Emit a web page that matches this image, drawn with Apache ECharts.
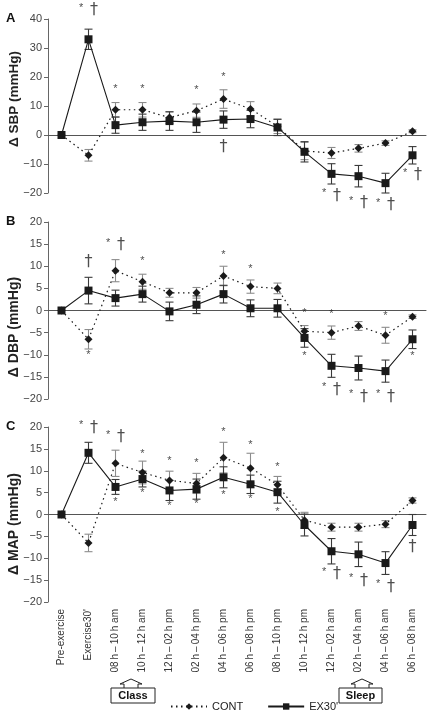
<!DOCTYPE html>
<html>
<head>
<meta charset="utf-8">
<script src="https://cdn.jsdelivr.net/npm/echarts@6/dist/echarts.min.js"></script>
<style>
html,body{margin:0;padding:0;background:#fff;}
#chart{width:433px;height:715px;}
</style>
</head>
<body>
<div id="chart"></div>
<script>
const categories = ['Pre-exercise', "Exercise30'", '08\u2009h\u2009–\u200910\u2009h am', '10\u2009h\u2009–\u200912\u2009h am', '12\u2009h\u2009–\u200902\u2009h pm', '02\u2009h\u2009–\u200904\u2009h pm', '04\u2009h\u2009–\u200906\u2009h pm', '06\u2009h\u2009–\u200908\u2009h pm', '08\u2009h\u2009–\u200910\u2009h pm', '10\u2009h\u2009–\u200912\u2009h pm', '12\u2009h\u2009–\u200902\u2009h am', '02\u2009h\u2009–\u200904\u2009h am', '04\u2009h\u2009–\u200906\u2009h am', '06\u2009h\u2009–\u200908\u2009h am'];

// Panel A: Δ SBP
const sbpCont    = [0, -7.0, 8.7, 8.7, 6.0, 8.4, 12.4, 9.0, 3.0, -5.5, -6.2, -4.6, -2.8, 1.3];
const sbpContErr = [0, 2.0, 2.5, 2.5, 2.0, 2.3, 3.2, 2.5, 2.5, 3.0, 1.9, 1.3, 0.8, 0.5];
const sbpEx      = [0, 33.0, 3.4, 4.4, 4.8, 4.4, 5.3, 5.5, 2.6, -5.8, -13.4, -14.2, -16.6, -7.0];
const sbpExErr   = [0, 3.5, 2.8, 2.8, 3.2, 3.5, 3.0, 3.0, 2.8, 3.5, 3.5, 3.7, 3.4, 3.0];
const sbpMarks   = [[1, 43, 'sd'], [2, 15.2, 's'], [3, 15.2, 's'], [5, 14.7, 's'], [6, 19.2, 's'], [6, -4.2, 'd'], [10, -21.0, 'sd'], [11, -23.5, 'sd'], [12, -24.2, 'sd'], [13, -13.9, 'sd']];

// Panel B: Δ DBP
const dbpCont    = [0, -6.5, 9.0, 6.5, 4.0, 4.0, 7.8, 5.4, 5.0, -4.7, -5.0, -3.5, -5.6, -1.4];
const dbpContErr = [0, 2.2, 2.5, 1.7, 1.0, 1.2, 2.2, 1.5, 1.2, 1.3, 1.5, 1.0, 1.8, 0.4];
const dbpEx      = [0, 4.5, 2.8, 3.7, -0.2, 1.3, 3.7, 0.5, 0.5, -6.2, -12.5, -13.0, -13.7, -6.5];
const dbpExErr   = [0, 3.0, 1.8, 1.8, 2.1, 2.0, 2.0, 1.9, 2.0, 2.1, 2.6, 2.7, 2.5, 2.1];
const dbpMarks   = [[1, 11.1, 'd'], [1, -10.4, 's'], [2, 14.8, 'sd'], [3, 10.8, 's'], [6, 12.0, 's'], [7, 9.0, 's'], [9, -1.0, 's'], [9, -10.8, 's'], [10, -1.2, 's'], [10, -17.9, 'sd'], [11, -19.4, 'sd'], [12, -1.7, 's'], [12, -19.4, 'sd'], [13, -10.8, 's']];

// Panel C: Δ MAP
const mapCont    = [0, -6.5, 11.7, 9.6, 7.8, 7.1, 13.0, 10.6, 6.8, -1.3, -2.9, -2.9, -2.2, 3.2];
const mapContErr = [0, 2.0, 3.0, 2.6, 2.1, 2.3, 3.5, 3.4, 1.9, 1.8, 0.9, 0.9, 0.8, 0.6];
const mapEx      = [0, 14.1, 6.3, 8.1, 5.5, 5.8, 8.5, 6.9, 5.1, -2.4, -8.4, -9.1, -11.1, -2.4];
const mapExErr   = [0, 2.4, 1.7, 1.8, 2.3, 2.3, 2.4, 2.1, 2.5, 2.5, 2.9, 2.8, 2.6, 2.4];
const mapMarks   = [[1, 19.8, 'sd'], [2, 17.7, 'sd'], [2, 2.4, 's'], [3, 13.4, 's'], [3, 4.5, 's'], [4, 11.8, 's'], [4, 1.5, 's'], [5, 11.3, 's'], [5, 1.9, 's'], [6, 18.4, 's'], [6, 4.0, 's'], [7, 15.5, 's'], [7, 3.0, 's'], [8, 10.5, 's'], [8, 0.2, 's'], [10, -13.6, 'sd'], [11, -15.1, 'sd'], [12, -16.5, 'sd'], [13, -7.5, 'd']];

const yTicksA = {min: -20, max: 40, interval: 10};
const yTicksB = {min: -20, max: 20, interval: 5};
const yTicksC = {min: -20, max: 20, interval: 5};
const yNames = ['Δ SBP (mmHg)', 'Δ DBP (mmHg)', 'Δ MAP (mmHg)'];
const panelLetters = ['A', 'B', 'C'];
const legendNames = ['CONT', "EX30'"];

const panels = [
  {cont: sbpCont, contErr: sbpContErr, ex: sbpEx, exErr: sbpExErr, marks: sbpMarks, ticks: yTicksA},
  {cont: dbpCont, contErr: dbpContErr, ex: dbpEx, exErr: dbpExErr, marks: dbpMarks, ticks: yTicksB},
  {cont: mapCont, contErr: mapContErr, ex: mapEx, exErr: mapExErr, marks: mapMarks, ticks: yTicksC}
];
const gridBoxes = [{top: 19, height: 174}, {top: 222, height: 177}, {top: 427, height: 175}];
const nameCenters = [99, 327, 524];
const nameSizes = [13.5, 14, 14];

const FONT = '"Liberation Sans", Arial, sans-serif';
const INK = '#1a1a1a';

const chart = echarts.init(document.getElementById('chart'), null, {renderer: 'canvas'});

function errData(vals, errs) {
  return vals.map((v, i) => [i, v - errs[i], v + errs[i]]);
}
function errSeries(idx, vals, errs, color) {
  return {
    type: 'custom', xAxisIndex: idx, yAxisIndex: idx, z: 1, silent: true,
    data: errData(vals, errs),
    encode: {x: 0, y: [1, 2]},
    renderItem: function (params, api) {
      const i = api.value(0);
      const lo = api.coord([i, api.value(1)]);
      const hi = api.coord([i, api.value(2)]);
      if (Math.abs(lo[1] - hi[1]) < 0.5) return null;
      const w = 4;
      const st = {stroke: color, lineWidth: 1.1};
      return {
        type: 'group',
        children: [
          {type: 'line', shape: {x1: lo[0], y1: lo[1], x2: hi[0], y2: hi[1]}, style: st},
          {type: 'line', shape: {x1: lo[0] - w, y1: lo[1], x2: lo[0] + w, y2: lo[1]}, style: st},
          {type: 'line', shape: {x1: hi[0] - w, y1: hi[1], x2: hi[0] + w, y2: hi[1]}, style: st}
        ]
      };
    }
  };
}
const markText = {s: '{s|*}', d: '{d|†}', sd: '{s|*}  {d|†}'};

const grid = [], xAxis = [], yAxis = [], series = [];
panels.forEach((p, k) => {
  grid.push({left: 48, right: 7, top: gridBoxes[k].top, height: gridBoxes[k].height});
  xAxis.push({
    type: 'category', gridIndex: k, data: categories, boundaryGap: true, position: 'bottom',
    axisLine: {onZero: true, lineStyle: {color: '#555', width: 1}},
    axisTick: {show: false}, axisLabel: {show: false}, splitLine: {show: false}
  });
  yAxis.push({
    type: 'value', gridIndex: k, min: p.ticks.min, max: p.ticks.max, interval: p.ticks.interval,
    axisLine: {show: true, lineStyle: {color: '#666', width: 1}},
    axisTick: {show: true, inside: false, length: 4, lineStyle: {color: '#666'}},
    axisLabel: {fontSize: 11, color: '#444', fontFamily: FONT, margin: 6,
      formatter: v => String(v).replace('-', '−')},
    splitLine: {show: false}
  });
  series.push(errSeries(k, p.cont, p.contErr, '#8c8c8c'));
  series.push(errSeries(k, p.ex, p.exErr, '#3a3a3a'));
  series.push({
    name: 'CONT', type: 'line', xAxisIndex: k, yAxisIndex: k, z: 3,
    data: p.cont, symbol: 'diamond', symbolSize: 8,
    itemStyle: {color: INK}, lineStyle: {color: INK, width: 1.2, type: [1.5, 3.5]}
  });
  series.push({
    name: "EX30'", type: 'line', xAxisIndex: k, yAxisIndex: k, z: 4,
    data: p.ex, symbol: 'rect', symbolSize: 8,
    itemStyle: {color: INK}, lineStyle: {color: INK, width: 1.1}
  });
  series.push({
    type: 'scatter', xAxisIndex: k, yAxisIndex: k, z: 5, silent: true, clip: false,
    symbolSize: 0,
    data: p.marks.map(m => ({value: [m[0], m[1]], code: m[2]})),
    label: {
      show: true, position: 'inside',
      formatter: params => markText[params.data.code],
      rich: {
        s: {fontSize: 11, color: '#222', fontFamily: FONT, verticalAlign: 'top', padding: [0, 0, 4, 0]},
        d: {fontSize: 16, color: '#222', fontFamily: 'DejaVu Sans, ' + FONT}
      }
    }
  });
});
// category labels under panel C
xAxis.push({
  type: 'category', gridIndex: 2, data: categories, boundaryGap: true, position: 'bottom', offset: 0,
  axisLine: {show: false, onZero: false}, axisTick: {show: false},
  axisLabel: {show: true, rotate: 90, fontSize: 10, color: '#333', fontFamily: FONT, margin: 7, interval: 0},
  splitLine: {show: false}
});

const graphic = [];
panelLetters.forEach((t, k) => {
  graphic.push({type: 'text', left: 6, top: gridBoxes[k].top - 7,
    style: {text: t, font: 'bold 13px ' + FONT, fill: '#111'}});
  graphic.push({type: 'text', x: 14, y: nameCenters[k], rotation: Math.PI / 2,
    style: {text: yNames[k], font: 'bold ' + nameSizes[k] + 'px ' + FONT, fill: '#222', textAlign: 'center', textVerticalAlign: 'middle'}});
});
function noteBox(label, x0, x1, ax) {
  graphic.push({type: 'rect', shape: {x: x0, y: 688, width: x1 - x0, height: 15},
    style: {fill: '#fff', stroke: '#222', lineWidth: 1}});
  graphic.push({type: 'text', x: (x0 + x1) / 2, y: 695.5,
    style: {text: label, font: 'bold 11px ' + FONT, fill: '#111', textAlign: 'center', textVerticalAlign: 'middle'}});
  graphic.push({type: 'polyline', shape: {points: [[ax - 7, 688], [ax - 7, 684], [ax - 11, 684], [ax, 679], [ax + 11, 684], [ax + 7, 684], [ax + 7, 688]]},
    style: {fill: 'none', stroke: '#222', lineWidth: 1}});
}
noteBox('Class', 111, 155, 131);
noteBox('Sleep', 339, 382, 362);

chart.setOption({
  animation: false,
  backgroundColor: '#fff',
  textStyle: {fontFamily: FONT},
  grid: grid, xAxis: xAxis, yAxis: yAxis, series: series,
  legend: {
    data: legendNames, left: 165, top: 696, itemWidth: 36, itemHeight: 8, itemGap: 24,
    textStyle: {fontSize: 11, color: '#222', fontFamily: FONT}, selectedMode: false
  },
  graphic: graphic
});
</script>
</body>
</html>
